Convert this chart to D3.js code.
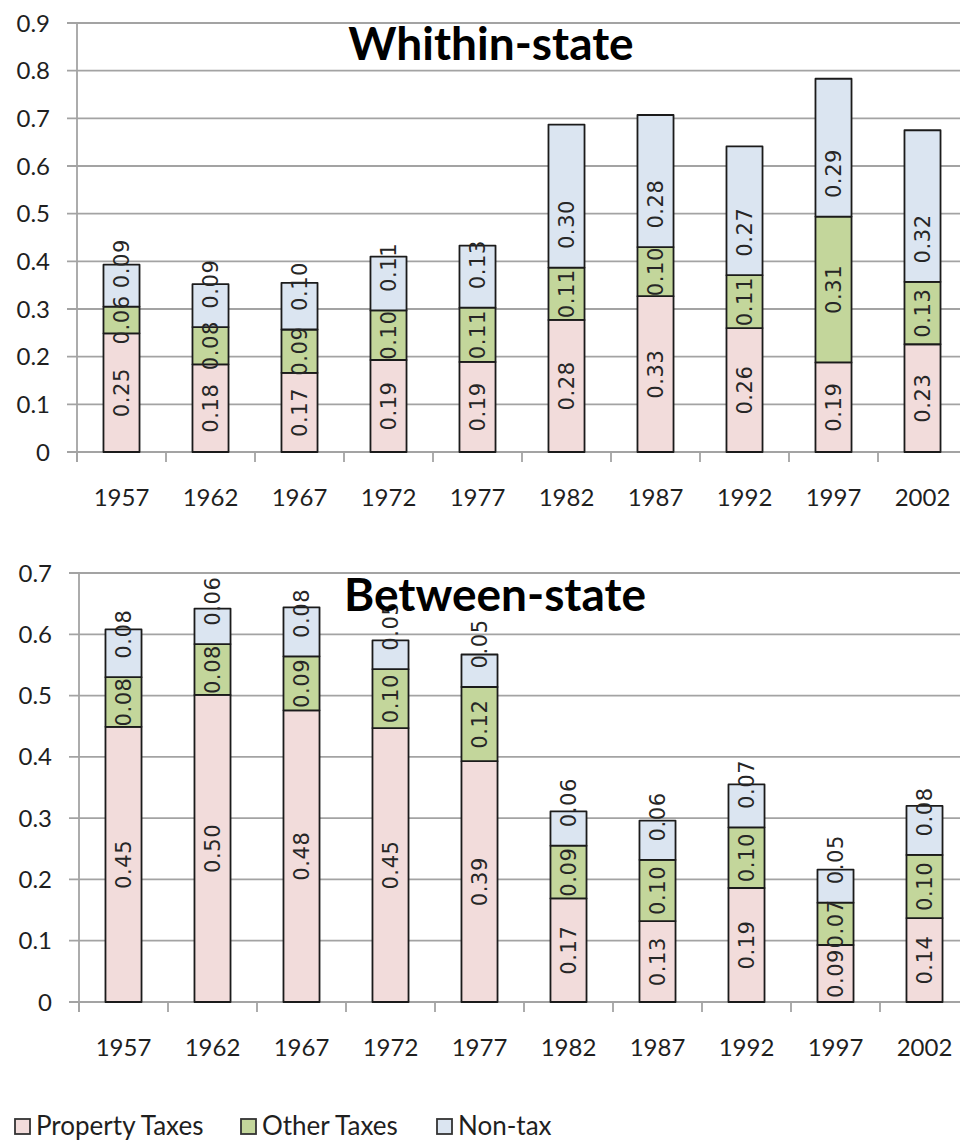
<!DOCTYPE html>
<html>
<head>
<meta charset="utf-8">
<script src="https://cdn.jsdelivr.net/npm/d3@7"></script>
<style>
  html, body { margin: 0; padding: 0; background: #fff; }
  svg { display: block; }
</style>
</head>
<body>
<svg id="chart" width="960" height="1140"></svg>
<script>
// Revenue components by census year
const years = ["1957", "1962", "1967", "1972", "1977", "1982", "1987", "1992", "1997", "2002"];
const seriesNames = ["Property Taxes", "Other Taxes", "Non-tax"];
const seriesKeys = ["property", "other", "nontax"];
const seriesColors = ["#f2dcdb", "#c3d69b", "#dbe5f1"];

// Within-state components
const withinProperty = [0.249, 0.184, 0.166, 0.193, 0.189, 0.277, 0.327, 0.260, 0.188, 0.226];
const withinOther    = [0.056, 0.078, 0.091, 0.104, 0.114, 0.110, 0.103, 0.111, 0.306, 0.131];
const withinNontax   = [0.088, 0.090, 0.098, 0.113, 0.130, 0.300, 0.277, 0.270, 0.289, 0.318];
const withinTicks    = [0, 0.1, 0.2, 0.3, 0.4, 0.5, 0.6, 0.7, 0.8, 0.9];

// Between-state components
const betweenProperty = [0.449, 0.501, 0.476, 0.447, 0.393, 0.169, 0.132, 0.186, 0.093, 0.137];
const betweenOther    = [0.081, 0.083, 0.088, 0.096, 0.121, 0.086, 0.100, 0.099, 0.069, 0.103];
const betweenNontax   = [0.078, 0.058, 0.080, 0.047, 0.053, 0.056, 0.064, 0.070, 0.054, 0.080];
const betweenTicks    = [0, 0.1, 0.2, 0.3, 0.4, 0.5, 0.6, 0.7];

const svg = d3.select("#chart");
const fmt = d3.format(".2f");
const tickFmt = v => v === 0 ? "0" : d3.format(".1f")(v);
const uiFont = "Lato, 'Open Sans', sans-serif";

function buildRows(prop, oth, non) {
  return years.map((y, i) => ({ year: y, property: prop[i], other: oth[i], nontax: non[i] }));
}

function drawPanel(cfg) {
  const g = svg.append("g");
  const x = d3.scaleBand().domain(years).range([cfg.x0, cfg.x1]).padding(0);
  const y = d3.scaleLinear().domain([0, cfg.yMax]).range([cfg.y0, cfg.yTop]);
  const barW = x.bandwidth() * 0.405;

  // horizontal gridlines, extending left of the axis as tick marks
  g.append("g").selectAll("line").data(cfg.ticks).join("line")
    .attr("x1", cfg.x0 - 10).attr("x2", 960)
    .attr("y1", d => y(d)).attr("y2", d => y(d))
    .attr("stroke", "#a3a3a3").attr("stroke-width", 1.8);

  // value axis labels
  g.append("g").selectAll("text").data(cfg.ticks).join("text")
    .attr("x", cfg.x0 - 27).attr("y", d => y(d))
    .attr("dy", "0.36em")
    .attr("text-anchor", "end")
    .attr("font-family", uiFont)
    .attr("font-size", 24)
    .attr("fill", "#1f1f1f")
    .text(tickFmt);

  // vertical axis line
  g.append("line")
    .attr("x1", cfg.x0).attr("x2", cfg.x0)
    .attr("y1", y(cfg.yMax)).attr("y2", cfg.y0 + 10)
    .attr("stroke", "#a3a3a3").attr("stroke-width", 1.8);

  // category ticks below the baseline
  const boundaries = years.map(d => x(d)).concat([x(years[years.length - 1]) + x.bandwidth()]);
  g.append("g").selectAll("line").data(boundaries).join("line")
    .attr("x1", d => d).attr("x2", d => d)
    .attr("y1", cfg.y0).attr("y2", cfg.y0 + 10)
    .attr("stroke", "#a3a3a3").attr("stroke-width", 1.8);

  // category labels
  g.append("g").selectAll("text").data(years).join("text")
    .attr("x", d => x(d) + x.bandwidth() / 2)
    .attr("y", cfg.y0 + 54)
    .attr("text-anchor", "middle")
    .attr("font-family", uiFont)
    .attr("font-size", 24)
    .attr("fill", "#1f1f1f")
    .text(d => d);

  // stacked bars
  const rows = buildRows(cfg.prop, cfg.oth, cfg.non);
  const stacked = d3.stack().keys(seriesKeys)(rows);

  const layers = g.append("g").selectAll("g").data(stacked).join("g")
    .attr("fill", (d, i) => seriesColors[i]);

  layers.selectAll("rect").data(d => d).join("rect")
    .attr("x", d => x(d.data.year) + (x.bandwidth() - barW) / 2)
    .attr("y", d => y(d[1]))
    .attr("width", barW)
    .attr("height", d => y(d[0]) - y(d[1]))
    .attr("stroke", "#1b1b1b")
    .attr("stroke-width", 1.8)
    .attr("stroke-linejoin", "round");

  // segment value labels, rotated to read bottom-to-top;
  // the top segment's label sits a fixed distance above its base
  const labelG = g.append("g");
  stacked.forEach((layer, li) => {
    labelG.selectAll(null).data(layer).join("text")
      .attr("transform", d => {
        const cx = x(d.data.year) + x.bandwidth() / 2;
        const cy = li === stacked.length - 1 ? y(d[0]) - 43 : (y(d[0]) + y(d[1])) / 2;
        return `translate(${cx},${cy}) rotate(-90)`;
      })
      .attr("text-anchor", "middle")
      .attr("dy", "0.36em")
      .attr("font-family", "'DejaVu Sans', Verdana, sans-serif")
      .attr("font-size", 21)
      .attr("letter-spacing", 0.6)
      .attr("fill", "#262626")
      .text(d => fmt(d[1] - d[0]));
  });

  // panel title
  g.append("text")
    .attr("x", cfg.titleX).attr("y", cfg.titleY)
    .attr("text-anchor", "middle")
    .attr("font-family", uiFont)
    .attr("font-weight", "bold")
    .attr("font-size", 46)
    .attr("fill", "#000")
    .text(cfg.title);
}

drawPanel({
  title: "Whithin-state", titleX: 491, titleY: 60,
  x0: 77, x1: 967, y0: 452, yTop: 23, yMax: 0.9, ticks: withinTicks,
  prop: withinProperty, oth: withinOther, non: withinNontax
});

drawPanel({
  title: "Between-state", titleX: 495, titleY: 611,
  x0: 79, x1: 969, y0: 1002, yTop: 573, yMax: 0.7, ticks: betweenTicks,
  prop: betweenProperty, oth: betweenOther, non: betweenNontax
});

// legend
const legendX = [15, 241, 437];
const legend = svg.append("g").selectAll("g").data(seriesNames).join("g")
  .attr("transform", (d, i) => `translate(${legendX[i]},1119)`);
legend.append("rect")
  .attr("width", 15).attr("height", 15)
  .attr("fill", (d, i) => seriesColors[i])
  .attr("stroke", "#333").attr("stroke-width", 1.8);
legend.append("text")
  .attr("x", 21).attr("y", 16)
  .attr("font-family", uiFont)
  .attr("font-size", 26)
  .attr("fill", "#1f1f1f")
  .text(d => d);
</script>
</body>
</html>
